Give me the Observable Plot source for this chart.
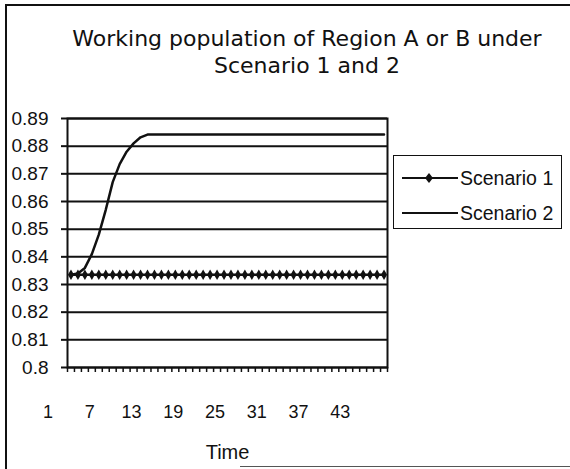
<!DOCTYPE html>
<html>
<head>
<meta charset="utf-8">
<script src="https://cdn.jsdelivr.net/npm/d3@7"></script>
<script src="https://cdn.jsdelivr.net/npm/@observablehq/plot@0.6"></script>
<style>
  html, body { margin: 0; padding: 0; background: #fff; }
  #wrap { position: relative; width: 570px; height: 469px; overflow: hidden; background: #fff; }
  #chart { position: absolute; left: 0; top: 0; }
  .title { position: absolute; left: 0; width: 614px; text-align: center; font-family: "DejaVu Sans", sans-serif; font-size: 22px; color: #111; white-space: nowrap; line-height: 1; }
  #legend { position: absolute; left: 393px; top: 155px; width: 169px; height: 74px; border: 1.5px solid #111; box-sizing: border-box; font-family: "Liberation Sans", Arial, sans-serif; font-size: 19.5px; color: #111; }
  .entry { position: absolute; left: 8px; height: 24px; display: flex; align-items: center; }
  .entry svg { display: block; }
  .border-left { position: absolute; left: 5px; top: 4px; width: 2px; height: 465px; background: #111; }
  .border-top { position: absolute; left: 5px; top: 4px; width: 565px; height: 2px; background: #111; }
  .border-bottom { position: absolute; left: 240px; top: 466px; width: 330px; height: 1px; background: #555; }
</style>
</head>
<body>
<div id="wrap">
  <div id="chart"></div>
  <div class="border-left"></div>
  <div class="border-top"></div>
  <div class="border-bottom"></div>
  <div class="title" id="t1" style="top:28px"></div>
  <div class="title" id="t2" style="top:55px"></div>
  <div id="legend"></div>
</div>
<script>
const titleLines = ["Working population of Region A or B under", "Scenario 1 and 2"];
const seriesNames = ["Scenario 1", "Scenario 2"];
const xTitle = "Time";

const times = [1,2,3,4,5,6,7,8,9,10,11,12,13,14,15,16,17,18,19,20,21,22,23,24,25,26,27,28,29,30,31,32,33,34,35,36,37,38,39,40,41,42,43,44,45,46];

const scenario1 = [0.8335,0.8335,0.8335,0.8335,0.8335,0.8335,0.8335,0.8335,0.8335,0.8335,
  0.8335,0.8335,0.8335,0.8335,0.8335,0.8335,0.8335,0.8335,0.8335,0.8335,
  0.8335,0.8335,0.8335,0.8335,0.8335,0.8335,0.8335,0.8335,0.8335,0.8335,
  0.8335,0.8335,0.8335,0.8335,0.8335,0.8335,0.8335,0.8335,0.8335,0.8335,
  0.8335,0.8335,0.8335,0.8335,0.8335,0.8335];

const scenario2 = [0.8335,0.8340,0.8360,0.8410,0.8480,0.8570,0.8670,0.8735,0.8780,0.8810,
  0.8832,0.8842,0.8842,0.8842,0.8842,0.8842,0.8842,0.8842,0.8842,0.8842,
  0.8842,0.8842,0.8842,0.8842,0.8842,0.8842,0.8842,0.8842,0.8842,0.8842,
  0.8842,0.8842,0.8842,0.8842,0.8842,0.8842,0.8842,0.8842,0.8842,0.8842,
  0.8842,0.8842,0.8842,0.8842,0.8842,0.8842];

const yTicks = [0.8,0.81,0.82,0.83,0.84,0.85,0.86,0.87,0.88,0.89];
const xLabels = [1,7,13,19,25,31,37,43];

const data = times.map((t, i) => ({t, s1: scenario1[i], s2: scenario2[i]}));
const tickBounds = d3.range(0.5, times.length + 1, 1);

const chart = Plot.plot({
  width: 570,
  height: 469,
  marginLeft: 67,
  marginRight: 183,
  marginTop: 118,
  marginBottom: 102,
  x: {domain: [0.5, times.length + 0.5], label: null},
  y: {domain: [0.8, 0.89], label: null},
  style: {fontFamily: "'Liberation Sans', Arial, sans-serif", color: "#111", background: "transparent", overflow: "visible"},
  marks: [
    Plot.ruleY(yTicks, {stroke: "#111", strokeWidth: 2}),
    Plot.frame({stroke: "#111", strokeWidth: 2}),
    Plot.axisY({ticks: yTicks, tickSize: 6, tickPadding: 13, tickFormat: d => String(d), fontSize: 19, strokeWidth: 2, label: null}),
    Plot.axisX({ticks: tickBounds, tickSize: 5, tickFormat: () => "", strokeWidth: 1.5, label: null}),
    Plot.axisX({ticks: xLabels, tickSize: 0, tickPadding: 38, dx: -23, fontSize: 18, label: null}),
    Plot.line(data, {x: "t", y: "s2", stroke: "#111", strokeWidth: 2.5}),
    Plot.line(data, {x: "t", y: "s1", stroke: "#111", strokeWidth: 2.5}),
    Plot.dot(data, {x: "t", y: "s1", symbol: "diamond", r: 3.2, fill: "#111", stroke: "none"}),
    Plot.text([xTitle], {frameAnchor: "bottom", dy: 91, fontSize: 20, fill: "#111"})
  ]
});
document.getElementById("chart").appendChild(chart);

document.getElementById("t1").textContent = titleLines[0];
document.getElementById("t2").textContent = titleLines[1];

const legend = document.getElementById("legend");
seriesNames.forEach((name, i) => {
  const e = document.createElement("div");
  e.className = "entry";
  e.style.top = (i === 0 ? 10 : 45) + "px";
  const marker = i === 0 ? '<path d="M27,6 L31,11 L27,16 L23,11 Z" fill="#111"/>' : '';
  e.innerHTML = '<svg width="58" height="22"><line x1="0" y1="11" x2="56" y2="11" stroke="#111" stroke-width="2"/>' + marker + '</svg><span>' + name + '</span>';
  legend.appendChild(e);
});
</script>
</body>
</html>
